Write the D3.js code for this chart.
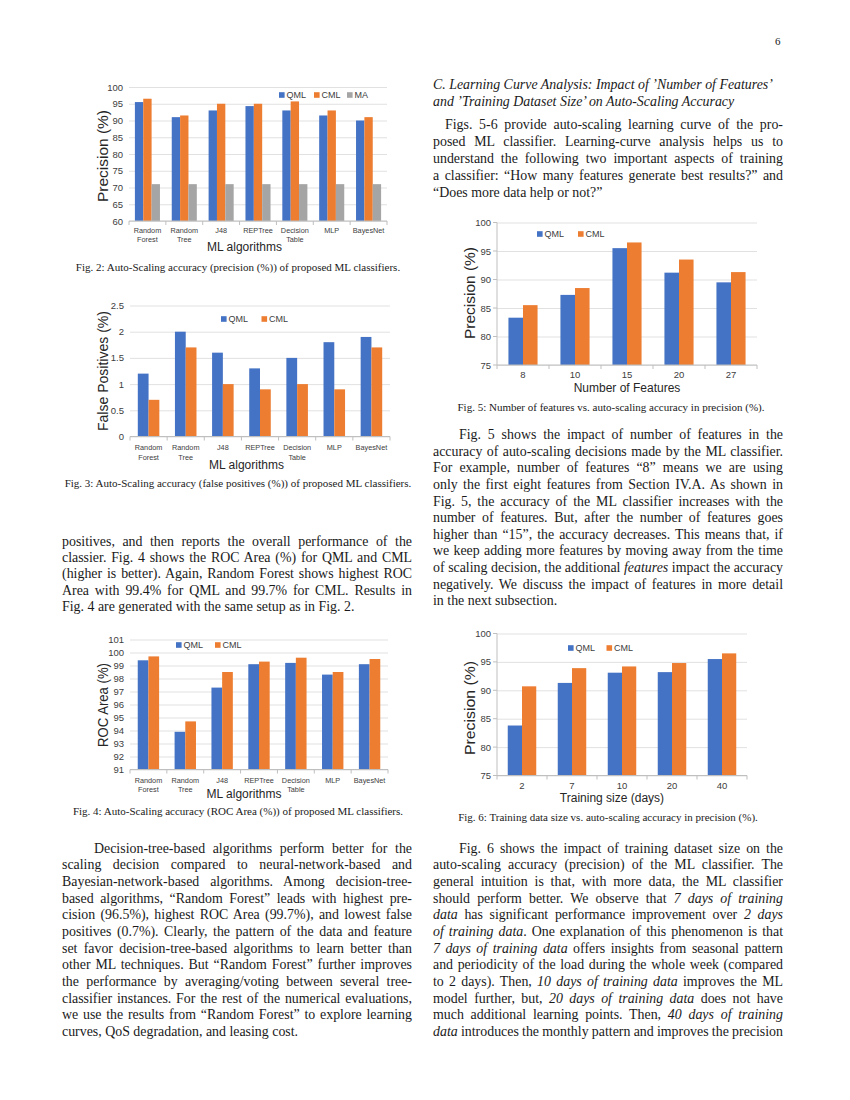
<!DOCTYPE html>
<html>
<head>
<meta charset="utf-8">
<script src="https://cdn.jsdelivr.net/npm/d3@7"></script>
<style>
  body { margin: 0; background: #fff; }
  #page { position: relative; width: 850px; height: 1100px; overflow: hidden;
          font-family: "Liberation Serif", "Times New Roman", serif; color: #1a1a1a; }
  svg.charts { position: absolute; left: 0; top: 0; }
  .ln { position: absolute; white-space: nowrap; font-size: 13.9px; line-height: 18px; }
  .cap { position: absolute; white-space: nowrap; font-size: 11px; line-height: 14px; }
</style>
</head>
<body>
<div id="page"><svg class="charts" width="850" height="1100"></svg></div>
<script>
// ---- data ----
const algorithms = [["Random", "Forest"], ["Random", "Tree"], ["J48"], ["REPTree"], ["Decision", "Table"], ["MLP"], ["BayesNet"]];
const precisionQML = [95.5, 91, 93, 94.3, 93, 91.5, 90];
const precisionCML = [96.5, 91.5, 95, 95, 95.7, 93, 91];
const precisionMA = [71, 71, 71, 71, 71, 71, 71];
const precisionTicks = [60, 65, 70, 75, 80, 85, 90, 95, 100];

const falsePosQML = [1.2, 2.0, 1.6, 1.3, 1.5, 1.8, 1.9];
const falsePosCML = [0.7, 1.7, 1.0, 0.9, 1.0, 0.9, 1.7];
const falsePosTicks = [0, 0.5, 1, 1.5, 2, 2.5];

const rocQML = [99.4, 93.9, 97.3, 99.1, 99.2, 98.3, 99.1];
const rocCML = [99.7, 94.7, 98.5, 99.3, 99.6, 98.5, 99.5];
const rocTicks = [91, 92, 93, 94, 95, 96, 97, 98, 99, 100, 101];

const featureCounts = [["8"], ["10"], ["15"], ["20"], ["27"]];
const featuresQML = [83.3, 87.3, 95.5, 91.2, 89.5];
const featuresCML = [85.5, 88.5, 96.5, 93.5, 91.3];

const trainingDays = [["2"], ["7"], ["10"], ["20"], ["40"]];
const trainingQML = [83.8, 91.3, 93.1, 93.2, 95.5];
const trainingCML = [90.7, 93.9, 94.2, 94.8, 96.5];
const learningTicks = [75, 80, 85, 90, 95, 100];

const blue = "#4472C4", orange = "#ED7D31", gray = "#A5A5A5";
const sans = "'Liberation Sans', Arial, sans-serif";

const svg = d3.select("svg.charts");

function drawChart(c) {
  const g = svg.append("g").style("font-family", sans);

  const x = d3.scaleBand()
    .domain(d3.range(c.cats.length))
    .range([c.left, c.right])
    .paddingInner(c.pi)
    .paddingOuter(c.pi / 2);
  const xs = d3.scaleBand()
    .domain(c.series.map(s => s.name))
    .range([0, x.bandwidth()]);
  const y = d3.scaleLinear()
    .domain(d3.extent(c.ticks))
    .range([c.bottom, c.top]);

  // grid + tick labels
  g.append("g")
    .attr("transform", `translate(${c.left},0)`)
    .call(d3.axisLeft(y).tickValues(c.ticks).tickSize(-(c.right - c.left)).tickPadding(6).tickFormat(d3.format("")))
    .call(a => a.select(".domain").remove())
    .call(a => a.selectAll(".tick line").attr("stroke", "#d9d9d9").attr("stroke-width", 0.8))
    .call(a => a.selectAll(".tick text").attr("fill", "#404040").style("font-size", "9.5px").style("font-family", sans));

  if (c.leftAxis) {
    g.append("line")
      .attr("x1", c.left).attr("x2", c.left)
      .attr("y1", c.top).attr("y2", c.bottom)
      .attr("stroke", "#bfbfbf");
    g.append("g").selectAll("line").data(c.ticks).join("line")
      .attr("x1", c.left - 4).attr("x2", c.left)
      .attr("y1", d => y(d)).attr("y2", d => y(d))
      .attr("stroke", "#bfbfbf");
  }

  // bars
  g.append("g").selectAll("g").data(c.series).join("g")
    .attr("fill", s => s.color)
    .selectAll("rect")
    .data(s => s.values.map((v, i) => ({ i, v, name: s.name })))
    .join("rect")
    .attr("x", d => x(d.i) + xs(d.name))
    .attr("width", xs.bandwidth())
    .attr("y", d => y(d.v))
    .attr("height", d => y.range()[0] - y(d.v));

  // bottom axis with ticks between categories
  const bounds = d3.range(c.cats.length + 1).map(i => c.left + i * (c.right - c.left) / c.cats.length);
  g.append("line")
    .attr("x1", c.left).attr("x2", c.right)
    .attr("y1", c.bottom).attr("y2", c.bottom)
    .attr("stroke", "#bfbfbf");
  g.append("g").selectAll("line").data(bounds).join("line")
    .attr("x1", d => d).attr("x2", d => d)
    .attr("y1", c.bottom).attr("y2", c.bottom + 4)
    .attr("stroke", "#bfbfbf");

  // category labels
  g.append("g")
    .attr("text-anchor", "middle")
    .attr("fill", "#404040")
    .style("font-size", c.catFont + "px")
    .selectAll("text").data(c.cats).join("text")
    .attr("x", (d, i) => x(i) + x.bandwidth() / 2)
    .selectAll("tspan").data(d => d).join("tspan")
    .attr("x", function () { return this.parentNode.getAttribute("x"); })
    .attr("y", (d, j) => c.catY + j * c.catGap)
    .attr("dy", "0.35em")
    .text(d => d);

  // axis titles
  g.append("text")
    .attr("x", c.titleX)
    .attr("y", c.titleY)
    .attr("dy", "0.35em")
    .attr("text-anchor", "middle")
    .attr("fill", "#262626")
    .style("font-size", "12px")
    .text(c.xTitle);

  g.append("text")
    .attr("transform", `translate(${c.yTitleX},${c.yTitleY}) rotate(-90)`)
    .attr("dy", "0.35em")
    .attr("text-anchor", "middle")
    .attr("fill", "#262626")
    .style("font-size", "14px")
    .attr("textLength", c.yTitleLen)
    .attr("lengthAdjust", "spacingAndGlyphs")
    .text(c.yTitle);

  // legend
  const lg = g.append("g").selectAll("g").data(c.series).join("g")
    .attr("transform", (s, i) => `translate(${c.legendX[i]},${c.legendY})`);
  lg.append("rect").attr("x", 0).attr("y", -2.8).attr("width", 5.6).attr("height", 5.6).attr("fill", s => s.color);
  lg.append("text").attr("x", 7.5).attr("dy", "0.35em").attr("fill", "#404040")
    .style("font-size", "9px").text(s => s.name);
}

drawChart({
  cats: algorithms, ticks: precisionTicks,
  series: [{ name: "QML", values: precisionQML, color: blue },
           { name: "CML", values: precisionCML, color: orange },
           { name: "MA", values: precisionMA, color: gray }],
  left: 129, right: 387, top: 87, bottom: 221, pi: 0.32,
  catY: 230, catGap: 9.5, catFont: 7.3, titleX: 244.5, titleY: 246.5, xTitle: "ML algorithms",
  yTitle: "Precision (%)", yTitleX: 103, yTitleY: 156, yTitleLen: 92,
  legendX: [279, 314, 347], legendY: 95
});

drawChart({
  cats: algorithms, ticks: falsePosTicks,
  series: [{ name: "QML", values: falsePosQML, color: blue },
           { name: "CML", values: falsePosCML, color: orange }],
  left: 130, right: 390, top: 305.5, bottom: 436.5, pi: 0.42,
  catY: 447, catGap: 10, catFont: 7.3, titleX: 246.5, titleY: 465, xTitle: "ML algorithms",
  yTitle: "False Positives (%)", yTitleX: 103, yTitleY: 371, yTitleLen: 120,
  legendX: [221, 261.5], legendY: 319
});

drawChart({
  cats: algorithms, ticks: rocTicks,
  series: [{ name: "QML", values: rocQML, color: blue },
           { name: "CML", values: rocCML, color: orange }],
  left: 130, right: 388, top: 639.5, bottom: 769.5, pi: 0.42,
  catY: 780, catGap: 9.5, catFont: 7.3, titleX: 244, titleY: 793.5, xTitle: "ML algorithms",
  yTitle: "ROC Area (%)", yTitleX: 103, yTitleY: 705, yTitleLen: 84,
  legendX: [176, 215], legendY: 645
});

drawChart({
  cats: featureCounts, ticks: learningTicks,
  series: [{ name: "QML", values: featuresQML, color: blue },
           { name: "CML", values: featuresCML, color: orange }],
  left: 497, right: 757, top: 222.5, bottom: 365, pi: 0.44, leftAxis: true,
  catY: 375, catGap: 10, catFont: 9.5, titleX: 627, titleY: 388, xTitle: "Number of Features",
  yTitle: "Precision (%)", yTitleX: 470, yTitleY: 293, yTitleLen: 92,
  legendX: [537, 578], legendY: 234
});

drawChart({
  cats: trainingDays, ticks: learningTicks,
  series: [{ name: "QML", values: trainingQML, color: blue },
           { name: "CML", values: trainingCML, color: orange }],
  left: 497, right: 747, top: 633.5, bottom: 775.5, pi: 0.43, leftAxis: true,
  catY: 785.5, catGap: 10, catFont: 9.5, titleX: 612, titleY: 797.5, xTitle: "Training size (days)",
  yTitle: "Precision (%)", yTitleX: 470, yTitleY: 708, yTitleLen: 94,
  legendX: [568, 606.5], legendY: 648
});

// ---- page text ----
const page = document.getElementById("page");

function addLine(html, cls, left, centerY, opts = {}) {
  const el = document.createElement("div");
  el.className = cls;
  el.innerHTML = html;
  page.appendChild(el);
  const off = cls === "ln" ? 10.5 : 8.2;
  el.style.top = (centerY - off) + "px";
  if (opts.center != null) {
    el.style.left = (opts.center - el.getBoundingClientRect().width / 2) + "px";
  } else {
    el.style.left = left + "px";
  }
  if (opts.width) {
    const w = el.getBoundingClientRect().width;
    const n = (el.textContent.match(/ /g) || []).length;
    if (n) el.style.wordSpacing = ((opts.width - w) / n) + "px";
  }
  if (opts.italic) el.style.fontStyle = "italic";
  return el;
}

function addParagraph(lines, left, width, y0, step, indent, justifyLast) {
  lines.forEach((t, i) => {
    const ind = i === 0 ? indent : 0;
    const last = i === lines.length - 1;
    addLine(t, "ln", left + ind, y0 + i * step, (last && !justifyLast) ? {} : { width: width - ind });
  });
}

const pageNumber = "6";
addLine(pageNumber, "cap", 775, 42);

const captions = [
  ["Fig. 2: Auto-Scaling accuracy (precision (%)) of proposed ML classifiers.", 238, 268],
  ["Fig. 3: Auto-Scaling accuracy (false positives (%)) of proposed ML classifiers.", 238, 484],
  ["Fig. 4: Auto-Scaling accuracy (ROC Area (%)) of proposed ML classifiers.", 238, 812],
  ["Fig. 5: Number of features vs. auto-scaling accuracy in precision (%).", 611, 408],
  ["Fig. 6: Training data size vs. auto-scaling accuracy in precision (%).", 608, 818]
];
captions.forEach(([t, cx, cy]) => addLine(t, "cap", 0, cy, { center: cx }));

const leftCol = 62, rightCol = 433, colWidth = 350;

addParagraph([
  "positives, and then reports the overall performance of the",
  "classier. Fig. 4 shows the ROC Area (%) for QML and CML",
  "(higher is better). Again, Random Forest shows highest ROC",
  "Area with 99.4% for QML and 99.7% for CML. Results in",
  "Fig. 4 are generated with the same setup as in Fig. 2."
], leftCol, colWidth, 543.3, 16.3, 0, false);

addParagraph([
  "Decision-tree-based algorithms perform better for the",
  "scaling decision compared to neural-network-based and",
  "Bayesian-network-based algorithms. Among decision-tree-",
  "based algorithms, “Random Forest” leads with highest pre-",
  "cision (96.5%), highest ROC Area (99.7%), and lowest false",
  "positives (0.7%). Clearly, the pattern of the data and feature",
  "set favor decision-tree-based algorithms to learn better than",
  "other ML techniques. But “Random Forest” further improves",
  "the performance by averaging/voting between several tree-",
  "classifier instances. For the rest of the numerical evaluations,",
  "we use the results from “Random Forest” to explore learning",
  "curves, QoS degradation, and leasing cost."
], leftCol, colWidth, 850, 16.67, 32, false);

addLine("C. Learning Curve Analysis: Impact of ’Number of Features’", "ln", rightCol, 86.7, { italic: true });
addLine("and ’Training Dataset Size’ on Auto-Scaling Accuracy", "ln", rightCol, 103.3, { italic: true });

addParagraph([
  "Figs. 5-6 provide auto-scaling learning curve of the pro-",
  "posed ML classifier. Learning-curve analysis helps us to",
  "understand the following two important aspects of training",
  "a classifier: “How many features generate best results?” and",
  "“Does more data help or not?”"
], rightCol, colWidth, 126.5, 17, 12, false);

addParagraph([
  "Fig. 5 shows the impact of number of features in the",
  "accuracy of auto-scaling decisions made by the ML classifier.",
  "For example, number of features “8” means we are using",
  "only the first eight features from Section IV.A. As shown in",
  "Fig. 5, the accuracy of the ML classifier increases with the",
  "number of features. But, after the number of features goes",
  "higher than “15”, the accuracy decreases. This means that, if",
  "we keep adding more features by moving away from the time",
  "of scaling decision, the additional <i>features</i> impact the accuracy",
  "negatively. We discuss the impact of features in more detail",
  "in the next subsection."
], rightCol, colWidth, 436.7, 16.6, 26, false);

addParagraph([
  "Fig. 6 shows the impact of training dataset size on the",
  "auto-scaling accuracy (precision) of the ML classifier. The",
  "general intuition is that, with more data, the ML classifier",
  "should perform better. We observe that <i>7 days of training</i>",
  "<i>data</i> has significant performance improvement over <i>2 days</i>",
  "<i>of training data</i>. One explanation of this phenomenon is that",
  "<i>7 days of training data</i> offers insights from seasonal pattern",
  "and periodicity of the load during the whole week (compared",
  "to 2 days). Then, <i>10 days of training data</i> improves the ML",
  "model further, but, <i>20 days of training data</i> does not have",
  "much additional learning points. Then, <i>40 days of training</i>",
  "<i>data</i> introduces the monthly pattern and improves the precision"
], rightCol, colWidth, 850, 16.67, 26, true);
</script>
</body>
</html>
